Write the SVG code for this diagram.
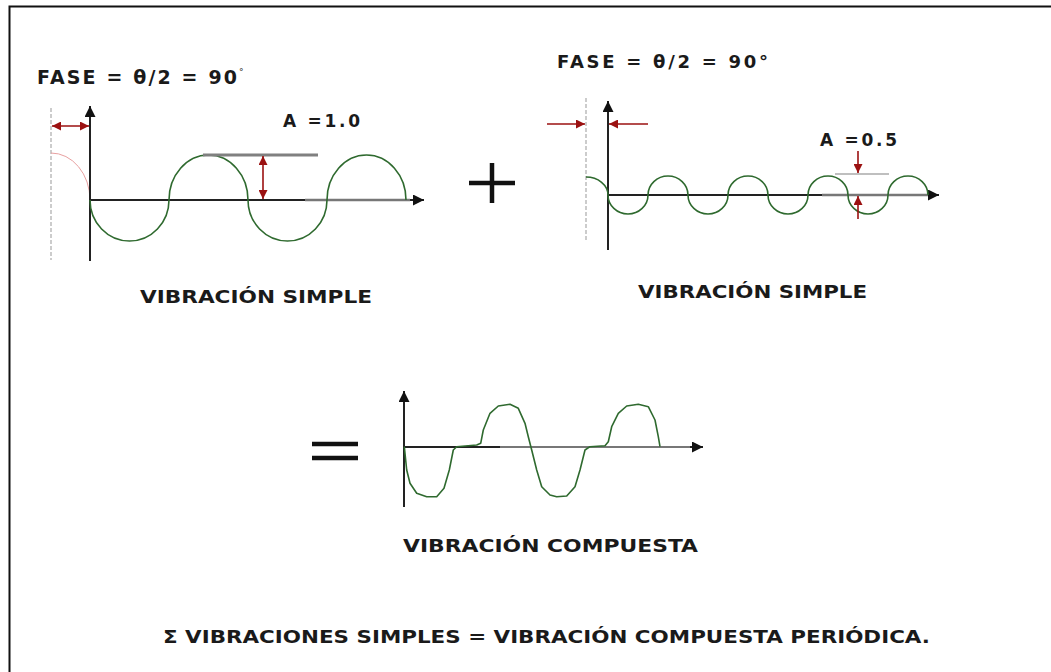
<svg xmlns="http://www.w3.org/2000/svg" width="1051" height="672" viewBox="0 0 1051 672">
<style>
.axis{stroke:#222;stroke-width:2;fill:none}
.wave{stroke:#2f6a2f;stroke-width:1.6;fill:none}
.dash{stroke:#999;stroke-width:1;stroke-dasharray:4 2;fill:none}
.red{stroke:#9b1111;stroke-width:1.6;fill:none}
.lbl{font-family:"DejaVu Sans",Verdana,sans-serif;font-weight:bold;fill:#1a1a1a}
.eq{font-family:"DejaVu Sans",Verdana,sans-serif;fill:#1a1a1a}
.sym{stroke:#111;stroke-width:4.5;fill:none}
</style>
<defs>
<marker id="ah" viewBox="0 0 10 10" refX="10" refY="5" markerWidth="13" markerHeight="11" markerUnits="userSpaceOnUse" orient="auto-start-reverse"><path d="M0,0 L10,5 L0,10 Z" fill="#111"/></marker>
<marker id="rh" viewBox="0 0 10 10" refX="10" refY="5" markerWidth="11" markerHeight="9" markerUnits="userSpaceOnUse" orient="auto-start-reverse"><path d="M0,0 L10,5 L0,10 Z" fill="#9b1111"/></marker>
</defs>
<rect width="1051" height="672" fill="#fff"/>
<path d="M9.5,672 V6.5 H1051" stroke="#111" stroke-width="2" fill="none"/>

<g id="simple1">
<text class="eq" x="37" y="84" font-size="19" font-weight="bold" textLength="200" lengthAdjust="spacing">FASE = θ/2 = 90</text><text class="eq" x="239" y="75" font-size="9">°</text>
<line class="dash" x1="51" y1="108" x2="51" y2="260"/>
<path d="M51,153 A39,47 0 0 1 90,200" stroke="#e8a0a0" stroke-width="1" fill="none"/>
<line class="axis" x1="90" y1="261" x2="90" y2="106" marker-end="url(#ah)"/>
<line class="axis" x1="90" y1="200" x2="424" y2="200" marker-end="url(#ah)"/>
<line x1="305" y1="200" x2="410" y2="200" stroke="#777" stroke-width="2.5"/>
<path class="wave" d="M90,200 A39.5,41 0 0 0 169,200 A39.5,45 0 0 1 248,200 A39.5,41 0 0 0 327,200 A39.5,45 0 0 1 406,200"/>
<line x1="203" y1="155" x2="318" y2="155" stroke="#808080" stroke-width="3"/>
<line class="red" x1="263" y1="156" x2="263" y2="199" marker-start="url(#rh)" marker-end="url(#rh)"/>
<line class="red" x1="52" y1="126" x2="89" y2="126" marker-start="url(#rh)" marker-end="url(#rh)"/>
<text class="lbl" x="283" y="127" font-size="17" textLength="77" lengthAdjust="spacing">A =1.0</text>
<text class="lbl" x="140" y="303" font-size="18" textLength="232" lengthAdjust="spacingAndGlyphs">VIBRACIÓN SIMPLE</text>
</g>

<g id="plus">
<line class="sym" x1="469" y1="183" x2="515" y2="183"/>
<line class="sym" x1="492" y1="163" x2="492" y2="203"/>
</g>

<g id="simple2">
<text class="eq" x="557" y="68" font-size="18" font-weight="bold" textLength="211" lengthAdjust="spacing">FASE = θ/2 = 90°</text>
<line class="dash" x1="586" y1="98" x2="586" y2="240"/>
<line class="axis" x1="608" y1="250" x2="608" y2="101" marker-end="url(#ah)"/>
<line class="axis" x1="608" y1="195" x2="939" y2="195" marker-end="url(#ah)"/>
<line x1="822" y1="195" x2="928" y2="195" stroke="#777" stroke-width="2.5"/>
<path class="wave" d="M586,177 A22,18 0 0 1 608,195 A20,19 0 0 0 648,195 A20,19 0 0 1 688,195 A20,19 0 0 0 728,195 A20,19 0 0 1 768,195 A20,19 0 0 0 808,195 A20,19 0 0 1 848,195 A20,19 0 0 0 888,195 A20,19 0 0 1 928,195"/>
<line x1="835" y1="174" x2="889" y2="174" stroke="#aaa" stroke-width="1.5"/>
<line class="red" x1="547" y1="124" x2="585" y2="124" marker-end="url(#rh)"/>
<line class="red" x1="648" y1="124" x2="609" y2="124" marker-end="url(#rh)"/>
<line class="red" x1="858" y1="151" x2="858" y2="173" marker-end="url(#rh)"/>
<line class="red" x1="858" y1="219" x2="858" y2="196" marker-end="url(#rh)"/>
<text class="lbl" x="820" y="146" font-size="17" textLength="77" lengthAdjust="spacing">A =0.5</text>
<text class="lbl" x="638" y="298" font-size="18" textLength="229" lengthAdjust="spacingAndGlyphs">VIBRACIÓN SIMPLE</text>
</g>

<g id="equals">
<line class="sym" x1="312" y1="444" x2="358" y2="444"/>
<line class="sym" x1="312" y1="458" x2="358" y2="458"/>
</g>

<g id="compuesta">
<line class="axis" x1="404" y1="507" x2="404" y2="391" marker-end="url(#ah)"/>
<line class="axis" x1="404" y1="447" x2="703" y2="447" marker-end="url(#ah)"/>
<line x1="500" y1="447" x2="690" y2="447" stroke="#777" stroke-width="2"/>
<polyline class="wave" stroke-linejoin="round" points="404.3,446.7 406.7,470 410,483.3 416.7,493.3 426.7,496.7 436.7,496.7 444,488.3 449.3,470 453.3,450 456.7,446.7 476.7,445 480.7,443.3 483.3,430 490,413.3 498.3,406 510,404.3 518.3,408.3 525,423.3 528.3,436.7 531.7,450 536.7,470 541.7,486.7 550,495 556.7,496.7 566.7,496 575,486.7 580,470 585,450 590,446.7 605,445.7 608.3,441.7 611.7,426.7 618.3,413.3 626.7,406 638.3,404.3 648.3,406.7 655,420 658.3,436.7 660,446.7"/>
<text class="lbl" x="403" y="552" font-size="17" textLength="295" lengthAdjust="spacingAndGlyphs">VIBRACIÓN COMPUESTA</text>
</g>

<g id="summary">
<text class="lbl" x="163" y="643" font-size="18" textLength="767" lengthAdjust="spacingAndGlyphs">Σ VIBRACIONES SIMPLES = VIBRACIÓN COMPUESTA PERIÓDICA.</text>
</g>
</svg>
